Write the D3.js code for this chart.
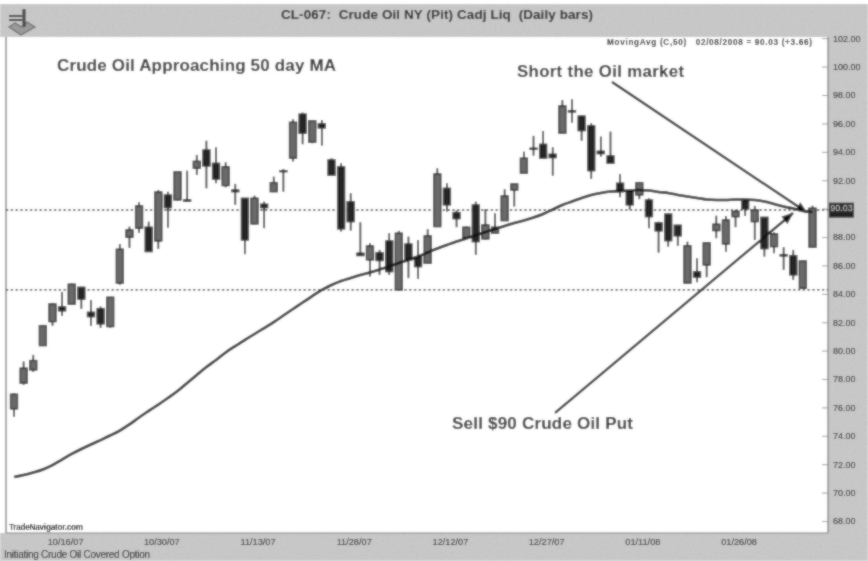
<!DOCTYPE html>
<html>
<head>
<meta charset="utf-8">
<script src="https://cdn.jsdelivr.net/npm/d3@7/dist/d3.min.js"></script>
<style>
html,body{margin:0;padding:0;background:#fff}
svg{display:block}
text{font-family:"Liberation Sans",Arial,sans-serif}
</style>
</head>
<body>
<svg id="c" width="868" height="561"></svg>
<script>
const titleText = "CL-067:  Crude Oil NY (Pit) Cadj Liq  (Daily bars)";
const headlineText = "Crude Oil Approaching 50 day MA";
const shortText = "Short the Oil market";
const sellText = "Sell $90 Crude Oil Put";
const legendText = "MovingAvg (C,50)   02/08/2008 = 90.03 (+3.66)";
const brandText = "TradeNavigator.com";
const captionText = "Initiating Crude Oil Covered Option";

const priceTicks = [68,70,72,74,76,78,80,82,84,86,88,90,92,94,96,98,100,102];
const dateTickBars = [5,15,25,35,45,55,65,75];
const dateLabels = ["10/16/07","10/30/07","11/13/07","11/28/07","12/12/07","12/27/07","01/11/08","01/26/08"];

const opens = [75.90,77.71,78.64,80.35,82.04,83.08,83.27,84.46,82.70,82.96,81.69,84.75,87.98,88.62,88.69,87.72,90.96,90.61,90.61,92.84,94.13,93.19,91.62,91.31,90.73,88.92,90.31,91.19,92.67,93.55,96.66,94.67,95.98,93.43,92.95,90.49,86.86,86.39,86.90,87.72,84.27,87.51,86.62,86.15,88.73,91.43,89.72,87.96,90.26,87.86,88.27,89.15,91.31,92.49,94.25,94.53,93.83,95.31,96.90,96.52,95.84,94.04,93.71,91.79,91.24,90.96,90.61,89.01,89.62,88.83,84.75,85.56,86.03,88.45,87.51,89.43,90.49,89.08,89.39,87.32,86.76,86.69,84.39,87.28];
const highs = [77.02,79.23,79.70,81.81,83.36,84.13,84.73,84.49,83.57,83.10,83.78,87.51,88.73,90.45,89.08,91.31,91.19,92.65,92.67,93.78,94.78,94.32,93.26,91.74,90.75,90.91,90.49,92.25,92.79,96.29,96.76,96.24,96.24,93.55,93.19,91.08,89.04,87.56,87.09,88.27,88.43,88.03,87.79,88.55,92.84,91.79,89.86,88.74,90.49,89.96,89.67,91.36,91.76,94.01,95.12,95.47,94.32,97.65,97.70,96.59,96.01,95.07,95.42,92.44,91.31,91.88,90.73,89.08,89.67,88.87,87.67,86.51,87.65,89.50,89.48,89.91,90.66,90.19,89.41,88.31,87.28,87.09,86.35,90.20];
const lows = [75.35,77.59,78.50,80.33,81.74,82.44,83.22,82.94,81.74,81.60,81.60,84.63,87.23,88.29,86.95,87.16,88.66,90.54,90.47,92.37,91.43,91.79,91.50,90.26,86.79,88.89,88.62,91.17,91.19,93.31,94.53,94.60,94.43,92.30,88.38,88.45,86.67,85.21,85.33,85.33,84.20,85.10,85.05,86.10,88.71,89.79,88.69,87.93,86.74,87.83,88.22,89.13,90.14,92.46,93.73,93.50,92.32,95.28,96.05,94.78,92.09,93.66,93.14,90.80,89.91,90.66,88.62,86.90,87.32,87.37,84.70,84.82,85.17,87.91,86.97,88.69,89.48,87.79,86.62,86.86,85.68,84.98,84.34,87.25];
const closes = [76.93,78.76,79.30,81.76,83.29,82.80,84.68,83.62,82.39,81.88,83.76,87.14,88.50,90.19,86.97,91.17,90.07,92.60,90.52,93.33,93.00,92.07,92.95,91.19,87.79,90.73,90.07,91.83,92.60,96.08,95.31,96.19,95.68,92.35,88.57,89.08,86.69,87.37,86.34,85.56,88.27,86.39,85.91,88.08,92.44,90.26,89.29,88.69,87.67,88.85,88.69,90.89,91.74,93.55,94.18,93.55,93.59,97.23,96.81,95.49,92.67,93.87,93.19,91.19,90.26,91.83,89.43,88.43,87.74,88.08,87.39,85.17,87.60,88.90,89.20,89.81,89.98,89.91,87.18,88.22,86.67,85.33,86.32,90.03];
const movingAvg = [71.10,71.24,71.42,71.63,71.94,72.33,72.72,73.07,73.39,73.70,74.02,74.37,74.80,75.29,75.75,76.20,76.66,77.15,77.72,78.28,78.84,79.34,79.87,80.32,80.75,81.17,81.59,82.01,82.47,82.93,83.39,83.84,84.27,84.62,84.90,85.11,85.32,85.50,85.71,85.92,86.17,86.38,86.63,86.91,87.19,87.44,87.68,87.89,88.10,88.35,88.56,88.77,88.99,89.16,89.37,89.62,89.94,90.25,90.50,90.75,90.96,91.10,91.20,91.24,91.27,91.31,91.27,91.17,91.10,90.96,90.85,90.75,90.64,90.61,90.61,90.64,90.64,90.61,90.50,90.32,90.15,90.01,89.83,89.76];
const dottedLevels = [89.90,84.28];
const lastPrice = 90.03;
const shortArrow = [[62.16,98.91],[82.43,89.72]];
const sellArrow = [[56.24,75.61],[80.98,89.69]];

const W = 868, H = 561;
const plot = {left:6, right:828, top:37, bottom:533};
const x = d3.scaleLinear().domain([0,83]).range([14,812.5]);
const y = d3.scaleLinear().domain([68,102]).range([521,38.2]);
const bars = d3.range(opens.length);
const svg = d3.select("#c");

const defs = svg.append("defs");
const blur = defs.append("filter").attr("id","scan").attr("x",0).attr("y",0).attr("width","100%").attr("height","100%");
blur.append("feGaussianBlur").attr("in","SourceGraphic").attr("stdDeviation",0.95).attr("result","b");
blur.append("feComposite").attr("in","SourceGraphic").attr("in2","b").attr("operator","arithmetic")
  .attr("k1",0).attr("k2",0.35).attr("k3",0.65).attr("k4",0);
const grain = defs.append("filter").attr("id","grain").attr("x",0).attr("y",0).attr("width","100%").attr("height","100%");
grain.append("feTurbulence").attr("type","fractalNoise").attr("baseFrequency",0.6).attr("numOctaves",2).attr("seed",4).attr("result","n");
grain.append("feColorMatrix").attr("in","n").attr("type","matrix")
  .attr("values","0 0 0 0 0.5  0 0 0 0 0.5  0 0 0 0 0.5  1.8 0 0 0 -0.7").attr("result","m");
grain.append("feComposite").attr("in","m").attr("in2","SourceGraphic").attr("operator","in").attr("result","t");
grain.append("feMerge").selectAll("feMergeNode").data(["SourceGraphic","t"]).join("feMergeNode").attr("in",d=>d);
const mk = defs.append("marker").attr("id","head").attr("viewBox","0 0 10 8").attr("refX",9.5).attr("refY",4)
  .attr("markerUnits","userSpaceOnUse").attr("markerWidth",12).attr("markerHeight",10).attr("orient","auto");
mk.append("path").attr("d","M0,0L10,4L0,8Z").attr("fill","#111");

const root = svg.append("g").attr("filter","url(#scan)");
root.append("rect").attr("width",W).attr("height",H).attr("fill","#fff");

const panels = root.append("g").attr("filter","url(#grain)").attr("fill","#cacaca");
panels.append("rect").attr("x",0).attr("y",4).attr("width",W).attr("height",plot.top-4);
panels.append("rect").attr("x",plot.right).attr("y",plot.top).attr("width",W-plot.right).attr("height",H-plot.top);
panels.append("rect").attr("x",0).attr("y",plot.bottom).attr("width",W).attr("height",H-plot.bottom);

root.append("line").attr("x1",plot.left).attr("x2",plot.left).attr("y1",plot.top).attr("y2",plot.bottom).attr("stroke","#9a9a9a").attr("stroke-width",1.8);
root.append("line").attr("x1",plot.left).attr("x2",plot.right).attr("y1",plot.bottom).attr("y2",plot.bottom).attr("stroke","#808080").attr("stroke-width",1);
root.append("line").attr("x1",plot.right).attr("x2",plot.right).attr("y1",plot.top).attr("y2",plot.bottom).attr("stroke","#787878").attr("stroke-width",1.2);

// logo
const logo = root.append("g").attr("fill","none");
logo.append("path").attr("d","M9,27 L21,35 L35,27 L27,22 L22,27 L15,23 Z").attr("fill","#9a9a9a").attr("stroke","#6a6a6a").attr("stroke-width",1.2);
logo.append("path").attr("d","M9,16 H22 M9,20 H22").attr("stroke-width",2.2).attr("stroke","#333");
logo.append("path").attr("d","M24,9 V27").attr("stroke-width",3.2).attr("stroke","#444");

root.append("text").attr("x",437).attr("y",19).attr("text-anchor","middle").attr("font-size",13.4).attr("font-weight","bold").attr("fill","#111")
  .attr("textLength",312).attr("xml:space","preserve").text(titleText);
root.append("text").attr("x",607).attr("y",45).attr("font-size",8.2).attr("font-weight","bold").attr("fill","#111")
  .attr("textLength",205).attr("xml:space","preserve").text(legendText);

// axes
const rightAxis = d3.axisRight(y).tickValues(priceTicks).tickSize(0).tickPadding(5)
  .tickFormat(d=>d===Math.round(lastPrice)?"":d3.format(".2f")(d));
const gy = root.append("g").attr("transform",`translate(${plot.right},0)`).call(rightAxis);
gy.select(".domain").remove();
gy.selectAll("text").attr("font-size",9).attr("fill","#111").attr("font-family",'"Liberation Sans",sans-serif');
const tickAxis = d3.axisLeft(y).tickValues(priceTicks).tickSize(6).tickFormat("");
const gt = root.append("g").attr("transform",`translate(${plot.right},0)`).call(tickAxis);
gt.select(".domain").remove();
gt.selectAll("line").attr("stroke","#999");

const bottomAxis = d3.axisBottom(x).tickValues(dateTickBars).tickSize(0).tickPadding(5).tickFormat((d,i)=>dateLabels[i]);
const gx = root.append("g").attr("transform",`translate(3,${plot.bottom})`).call(bottomAxis);
gx.select(".domain").remove();
gx.selectAll("text").attr("font-size",9.2).attr("fill","#111").attr("font-family",'"Liberation Sans",sans-serif');

// dotted levels
root.append("g").selectAll("line").data(dottedLevels).join("line")
  .attr("x1",plot.left).attr("x2",plot.right).attr("y1",d=>y(d)).attr("y2",d=>y(d))
  .attr("stroke","#222").attr("stroke-width",1.4).attr("stroke-dasharray","2.2 2.6");

// candles
const candle = root.append("g").selectAll("g").data(bars).join("g");
candle.append("line").attr("x1",i=>x(i)).attr("x2",i=>x(i)).attr("y1",i=>y(highs[i])).attr("y2",i=>y(lows[i]))
  .attr("stroke","#2a2a2a").attr("stroke-width",1.8);
candle.append("rect")
  .attr("x",i=>x(i)-3.5).attr("width",7)
  .attr("y",i=>y(Math.max(opens[i],closes[i])))
  .attr("height",i=>Math.max(1,Math.abs(y(opens[i])-y(closes[i]))))
  .attr("fill",i=>closes[i]>=opens[i]?"#6a6a6a":"#262626")
  .attr("stroke","#161616").attr("stroke-width",1.3);

// moving average
const maLine = d3.line().x((d,i)=>x(i)).y(d=>y(d)).curve(d3.curveMonotoneX);
root.append("path").attr("d",maLine(movingAvg)).attr("fill","none").attr("stroke","#0c0c0c").attr("stroke-width",2.6);

// arrows
const arrowLine = d3.line().x(d=>x(d[0])).y(d=>y(d[1]));
[shortArrow,sellArrow].forEach(a=>{
  root.append("path").attr("d",arrowLine(a)).attr("fill","none").attr("stroke","#0c0c0c").attr("stroke-width",2.3).attr("marker-end","url(#head)");
});

// last price tag
root.append("rect").attr("x",829).attr("y",y(lastPrice)-5.5).attr("width",25).attr("height",15).attr("fill","#222");
root.append("text").attr("x",841.5).attr("y",y(lastPrice)+3).attr("text-anchor","middle").attr("font-size",9).attr("fill","#d4d4d4").text(lastPrice.toFixed(2));

// annotations
const notes = root.append("g").attr("font-weight","bold").attr("fill","#141414");
notes.append("text").attr("x",57).attr("y",71).attr("font-size",17).attr("textLength",279).text(headlineText);
notes.append("text").attr("x",517).attr("y",77).attr("font-size",16.8).attr("textLength",167).text(shortText);
notes.append("text").attr("x",452).attr("y",429).attr("font-size",17).attr("textLength",181).text(sellText);
root.append("text").attr("x",9).attr("y",530).attr("font-size",8.2).attr("font-weight","bold").attr("fill","#111").attr("textLength",74).text(brandText);
root.append("text").attr("x",4).attr("y",558).attr("font-size",10).attr("fill","#111").attr("textLength",146).text(captionText);
</script>
</body>
</html>
